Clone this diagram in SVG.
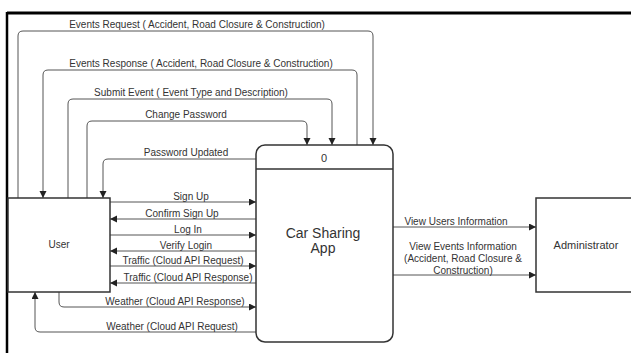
<svg xmlns="http://www.w3.org/2000/svg" width="631" height="353" viewBox="0 0 631 353">
<style>
.lbl{font-family:"Liberation Sans",Arial,sans-serif;font-size:10px;fill:#333;text-anchor:middle}
.big{font-family:"Liberation Sans",Arial,sans-serif;font-size:14px;fill:#333;text-anchor:middle}
.box{fill:#fff;stroke:#333;stroke-width:1.5}
.edge{fill:none;stroke:#555;stroke-width:1;marker-end:url(#arr)}
.plain{fill:none;stroke:#555;stroke-width:1}
</style>
<defs>
<marker id="arr" markerUnits="userSpaceOnUse" markerWidth="8" markerHeight="8" refX="7" refY="3.5" orient="auto">
<path d="M0,0 L7,3.5 L0,7 z" fill="#222"/>
</marker>
</defs>
<rect width="631" height="353" fill="#fff"/>
<g id="frame">
<line x1="7" y1="13" x2="631" y2="13" stroke="#000" stroke-width="3"/>
<line x1="7" y1="12" x2="7" y2="353" stroke="#000" stroke-width="2.5"/>
</g>
<g id="connectors">
<path class="edge" d="M18,198 V36 Q18,31 23,31 H368 Q373,31 373,36 V145"/>
<path class="edge" d="M357,145 V75 Q357,70 352,70 H48 Q43,70 43,75 V198"/>
<path class="edge" d="M68,198 V104 Q68,99 73,99 H327 Q332,99 332,104 V145"/>
<path class="edge" d="M87,198 V126 Q87,121 92,121 H302 Q307,121 307,126 V145"/>
<path class="edge" d="M256,159 H108 Q103,159 103,164 V198"/>
<path class="edge" d="M110,202 H256"/>
<path class="edge" d="M256,219 H110"/>
<path class="edge" d="M110,235 H256"/>
<path class="edge" d="M256,251 H110"/>
<path class="edge" d="M110,266 H256"/>
<path class="edge" d="M256,283 H110"/>
<path class="edge" d="M59,292 V302 Q59,307 64,307 H256"/>
<path class="edge" d="M256,332 H40 Q35,332 35,327 V292"/>
<path class="edge" d="M393,227 H536"/>
<path class="edge" d="M393,275 H536"/>
<text class="lbl" x="197" y="28">Events Request ( Accident, Road Closure &amp; Construction)</text>
<text class="lbl" x="201" y="67">Events Response ( Accident, Road Closure &amp; Construction)</text>
<text class="lbl" x="191" y="96">Submit Event ( Event Type and Description)</text>
<text class="lbl" x="186" y="118">Change Password</text>
<text class="lbl" x="186" y="156">Password Updated</text>
<text class="lbl" x="191" y="200">Sign Up</text>
<text class="lbl" x="182" y="217">Confirm Sign Up</text>
<text class="lbl" x="188" y="233">Log In</text>
<text class="lbl" x="186" y="249">Verify Login</text>
<text class="lbl" x="183" y="264">Traffic (Cloud API Request)</text>
<text class="lbl" x="188" y="281">Traffic (Cloud API Response)</text>
<text class="lbl" x="175" y="305">Weather (Cloud API Response)</text>
<text class="lbl" x="172" y="330">Weather (Cloud API Request)</text>
<text class="lbl" x="456" y="225">View Users Information</text>
<text class="lbl" x="463" y="250">View Events Information</text>
<text class="lbl" x="463" y="262">(Accident, Road Closure &amp;</text>
<text class="lbl" x="463" y="274">Construction)</text>
</g>
<g id="user">
<rect class="box" x="8" y="198" width="102" height="94"/>
<text class="lbl" x="59" y="248">User</text>
</g>
<g id="app">
<rect class="box" x="256" y="145" width="137" height="197" rx="9"/>
<line x1="256" y1="169" x2="393" y2="169" stroke="#333" stroke-width="1.5"/>
<text class="lbl" x="324" y="162" style="font-size:11px">0</text>
<text class="big" x="323" y="238">Car Sharing</text>
<text class="big" x="323" y="253">App</text>
</g>
<g id="admin">
<rect class="box" x="536" y="198" width="100" height="94"/>
<text class="lbl" x="586" y="249" style="font-size:11px">Administrator</text>
</g>
</svg>
